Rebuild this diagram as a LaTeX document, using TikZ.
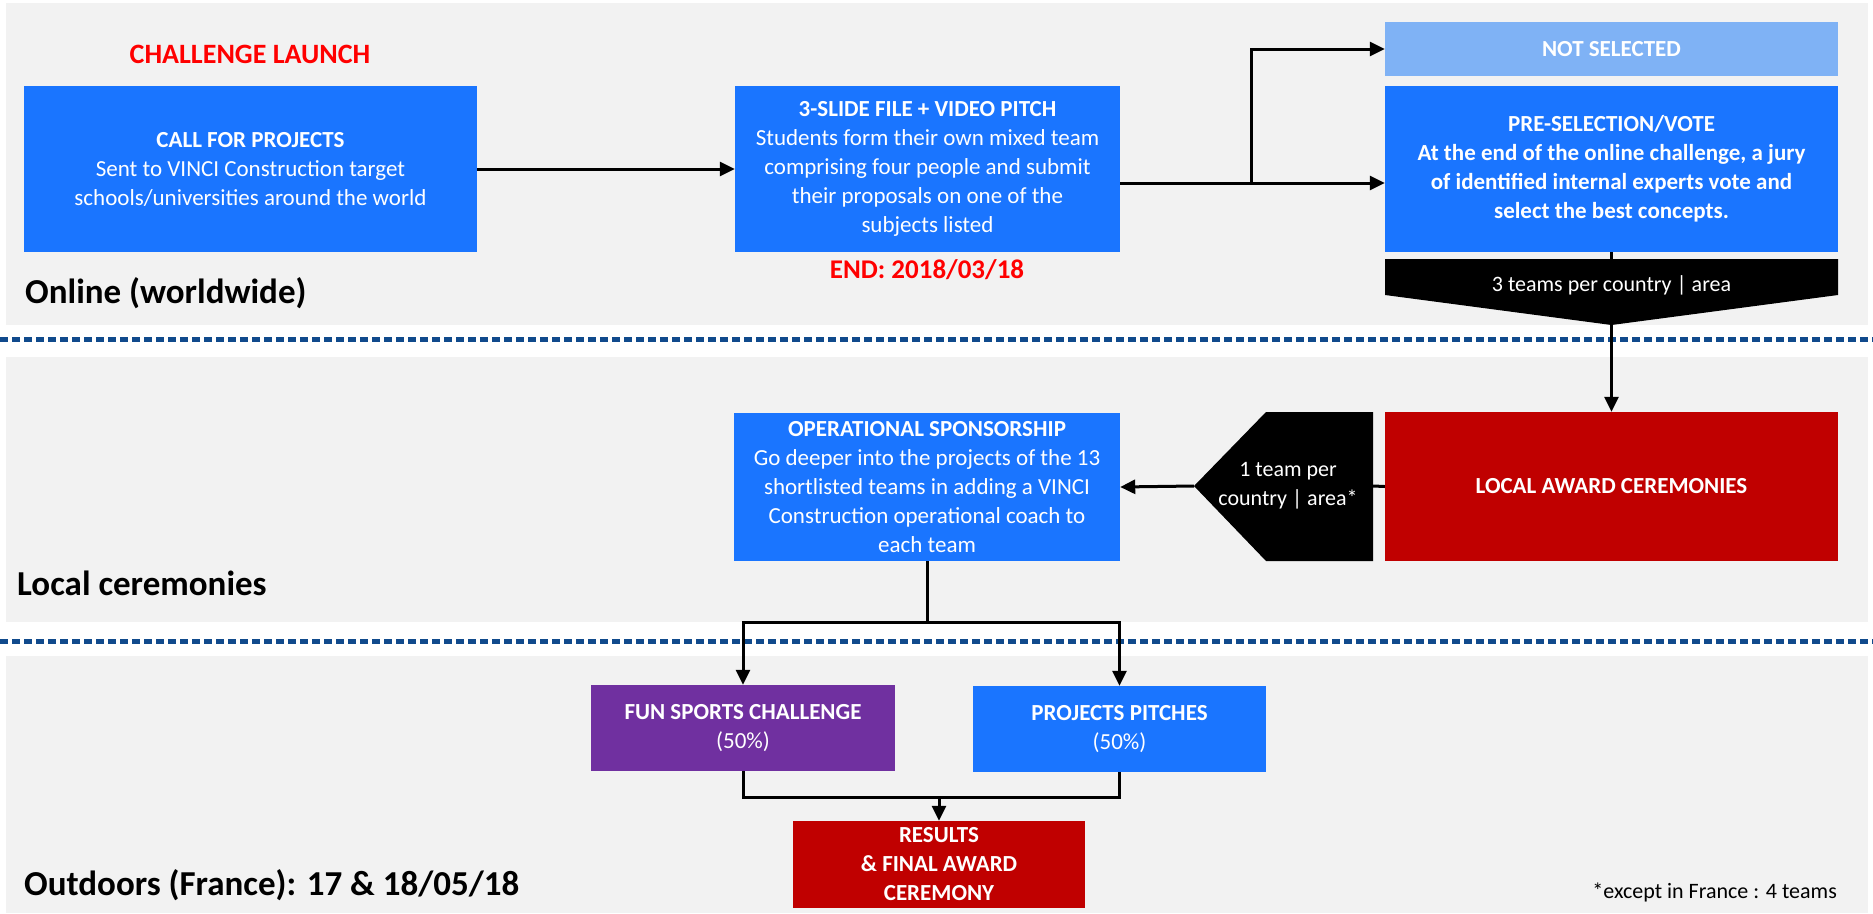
\documentclass[tikz,border=0pt]{standalone}
\usepackage{fontspec}
\setmainfont{Carlito}
\usetikzlibrary{arrows.meta,calc}
\definecolor{vblue}{RGB}{26,117,255}
\definecolor{lblue}{RGB}{127,178,245}
\definecolor{dred}{RGB}{192,0,0}
\definecolor{vpurple}{RGB}{112,48,160}
\definecolor{bandgray}{RGB}{242,242,242}
\definecolor{dotblue}{RGB}{16,74,140}
\definecolor{tred}{RGB}{255,0,0}
\tikzset{
  box/.style={rectangle, inner sep=0pt, text=white, align=center, font=\fontsize{23}{29}\selectfont},
  arr/.style={line width=3pt, -{Triangle[length=15pt,width=14pt]}},
  ln/.style={line width=3pt},
  dotline/.style={line width=5pt, dotblue, dash pattern=on 8pt off 4pt},
  band/.style={fill=bandgray, draw=none},
  heading/.style={font=\fontsize{35}{40}\selectfont\bfseries, text=black, inner sep=0pt},
  redlabel/.style={font=\fontsize{27}{32}\selectfont\bfseries, text=tred, inner sep=0pt},
}
\begin{document}
\begin{tikzpicture}[x=1pt,y=-1pt]
\useasboundingbox (0,0) rectangle (1873,913);
\fill[white] (0,0) rectangle (1873,913);
% bands
\path[band] (6,3) rectangle (1868,325);
\path[band] (6,357) rectangle (1868,622);
\path[band] (6,656) rectangle (1868,913);
\draw[dotline] (0,339) -- (1873,339);
\draw[dotline] (0,641) -- (1873,641);

% section labels
\node[heading, anchor=base west] (h1) at (25,303) {Online (worldwide)};
\node[heading, anchor=base west] (h2) at (17,595) {Local ceremonies};
\node[heading, anchor=base west] (h3) at (24,895) {Outdoors (France): 17 \& 18/05/18};
\node[redlabel, font=\fontsize{28}{32}\selectfont\bfseries] (cl) at (250,54) {CHALLENGE LAUNCH};
\node[redlabel, anchor=base] (end) at (927,278) {END: 2018/03/18};
\node[font=\fontsize{22}{26}\selectfont, anchor=base east, inner sep=0pt] (foot) at (1837,898) {*except in France : 4 teams};

% boxes
\node[box, fill=vblue, minimum width=453, minimum height=166] (call) at (250.5,169)
  {\textbf{CALL FOR PROJECTS}\\Sent to VINCI Construction target\\schools/universities around the world};
\node[box, fill=vblue, minimum width=385, minimum height=166] (slide) at (927.5,169)
  {\textbf{3-SLIDE FILE + VIDEO PITCH}\\Students form their own mixed team\\comprising four people and submit\\their proposals on one of the\\subjects listed};
\node[box, fill=lblue, minimum width=453, minimum height=54, font=\fontsize{23}{29}\selectfont\bfseries] (ns) at (1611.5,49) {NOT SELECTED};
\node[box, fill=vblue, minimum width=453, minimum height=166, font=\fontsize{23}{29}\selectfont\bfseries] (pre) at (1611.5,169)
  {PRE-SELECTION/VOTE\\At the end of the online challenge, a jury\\of identified internal experts vote and\\select the best concepts.};
\node[box, fill=vblue, minimum width=386, minimum height=148] (oper) at (927,487)
  {\textbf{OPERATIONAL SPONSORSHIP}\\Go deeper into the projects of the 13\\shortlisted teams in adding a VINCI\\Construction operational coach to\\each team};
\node[box, fill=dred, minimum width=453, minimum height=149, font=\fontsize{23}{29}\selectfont\bfseries] (local) at (1611.5,486.5) {LOCAL AWARD CEREMONIES};
\node[box, fill=vpurple, minimum width=304, minimum height=86] (fun) at (743,728)
  {\textbf{FUN SPORTS CHALLENGE}\\(50\%)};
\node[box, fill=vblue, minimum width=293, minimum height=86] (proj) at (1119.5,729)
  {\textbf{PROJECTS PITCHES}\\(50\%)};
\node[box, fill=dred, minimum width=292, minimum height=87, font=\fontsize{23}{29}\selectfont\bfseries] (res) at (939,864.5)
  {RESULTS\\\& FINAL AWARD\\CEREMONY};

% pentagon (3 teams)
\fill[black] (1385,259) -- (1838,259) -- (1838,295) -- (1611.5,325) -- (1385,295) -- cycle;
\coordinate (ptop) at (1611.5,259);
\coordinate (ptip) at (1611.5,325);
\node[box, font=\fontsize{22}{29}\selectfont] (three) at (1611.5,285) {3 teams per country | area};

% hexagon (1 team)
\fill[black] (1266,412) -- (1373,412) -- (1373,561) -- (1266,561) -- (1194,486) -- cycle;
\coordinate (hexR) at (1373,486);
\coordinate (hexL) at (1194,486);
\node[box, font=\fontsize{22}{29}\selectfont] (one) at (1288,486) {1 team per\\country | area*};

% connectors
\draw[arr] (call.east) -- (slide.west);
\coordinate (j1) at (1251,183);
\draw[arr] ([yshift=-14pt]slide.east) -- ([yshift=-14pt]pre.west);
\draw[arr] (j1) |- (ns.west);
\draw[ln] (pre.south) -- (ptop);
\draw[arr] (ptip) -- (local.north);
\draw[ln] (local.west) -- (hexR);
\draw[arr] (hexL) -- (oper.east);
\coordinate (s1) at (927,622);
\draw[ln] (oper.south) -- (s1);
\draw[arr] (s1) -| (fun.north);
\draw[arr] (s1) -| (proj.north);
\coordinate (m1) at (939,797);
\draw[ln] (fun.south) |- (m1);
\draw[ln] (proj.south) |- (m1);
\draw[arr] (m1) -- (res.north);
\end{tikzpicture}
\end{document}
